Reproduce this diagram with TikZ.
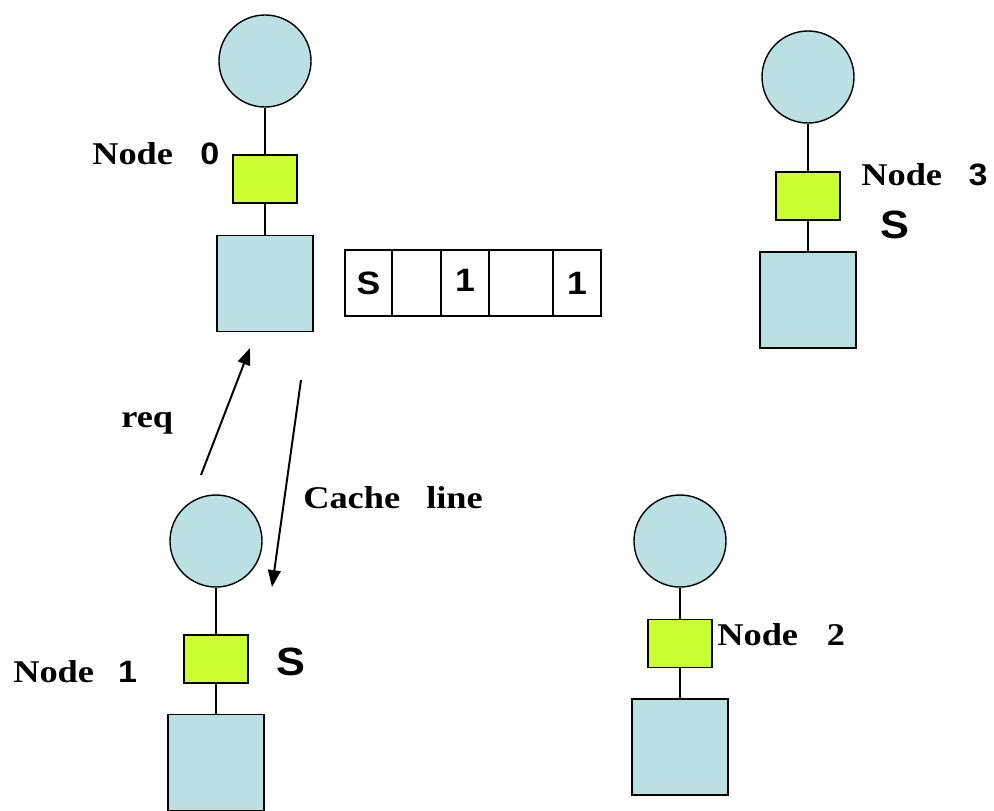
\documentclass[tikz,border=0pt]{standalone}
\usepackage{fontspec}
\setmainfont{Liberation Serif}
\newfontfamily\namefont[FakeStretch=1.15]{Liberation Serif}
\newfontfamily\gothicfont[FakeStretch=1.1]{Liberation Sans}
\usepackage{tikz}
\usetikzlibrary{positioning,arrows.meta}
\definecolor{procblue}{RGB}{187,224,227}
\definecolor{cachelime}{RGB}{204,255,51}
\tikzset{
  proc/.style={circle,draw=black,line width=1pt,fill=procblue,minimum size=2.3cm,inner sep=0pt},
  cachebox/.style={rectangle,draw=black,line width=1.2pt,fill=cachelime,minimum width=1.6cm,minimum height=1.2cm,inner sep=0pt},
  membox/.style={rectangle,draw=black,line width=1pt,fill=procblue,minimum width=2.4cm,minimum height=2.4cm,inner sep=0pt},
  dircell/.style={rectangle,draw=black,line width=1.2pt,minimum height=1.65cm,inner sep=0pt,outer sep=0pt,font=\gothicfont\bfseries\fontsize{23}{26}\selectfont},
  nodename/.style={font=\namefont\bfseries\fontsize{22.5}{26}\selectfont,inner sep=0pt},
  statetag/.style={font=\gothicfont\bfseries\fontsize{28}{30}\selectfont,inner sep=0pt},
  link/.style={line width=1pt},
  msg/.style={-{Triangle[length=12pt,width=9pt]},line width=1.4pt}
}
\newcommand{\gdigit}[1]{{\gothicfont\fontsize{22}{26}\selectfont #1}}

\begin{document}
\begin{tikzpicture}[x=0.025cm,y=-0.025cm]
  \useasboundingbox (0,0) rectangle (994,810);
  % node 0 (home)
  \node[proc] (proc0) at (265,61) {};
  \node[cachebox] (cache0) at (265,179) {};
  \node[membox] (mem0) at (265,283.5) {};
  \draw[link] (proc0) -- (cache0);
  \draw[link] (cache0) -- (mem0);
  \node[nodename,anchor=base west] (name0) at (92,164) {Node\hspace{0.68cm}\gdigit{0}};
  % directory entry
  \node[dircell,minimum width=1.175cm,anchor=west] (dirS) at (345,283) {S};
  \node[dircell,minimum width=1.225cm,right=0pt of dirS] (dirA) {};
  \node[dircell,minimum width=1.2cm,right=0pt of dirA] (dirB) {\raisebox{4pt}{1}};
  \node[dircell,minimum width=1.6cm,right=0pt of dirB] (dirC) {};
  \node[dircell,minimum width=1.2cm,right=0pt of dirC] (dirD) {1};
  % node 3
  \node[proc] (proc3) at (808,77) {};
  \node[cachebox] (cache3) at (808,196) {};
  \node[membox] (mem3) at (808,300) {};
  \draw[link] (proc3) -- (cache3);
  \draw[link] (cache3) -- (mem3);
  \node[nodename,anchor=base west] (name3) at (861,185) {Node\hspace{0.66cm}\gdigit{3}};
  \node[statetag,anchor=base west] (tag3) at (880,238) {S};
  % node 1 (requester)
  \node[proc] (proc1) at (216,541) {};
  \node[cachebox] (cache1) at (216,659) {};
  \node[membox] (mem1) at (216,762.5) {};
  \draw[link] (proc1) -- (cache1);
  \draw[link] (cache1) -- (mem1);
  \node[nodename,anchor=base west] (name1) at (13,682) {Node\hspace{0.6cm}\gdigit{1}};
  \node[statetag,anchor=base west] (tag1) at (276,675) {S};
  % node 2
  \node[proc] (proc2) at (680,541) {};
  \node[cachebox] (cache2) at (680,643.5) {};
  \node[membox] (mem2) at (680,747) {};
  \draw[link] (proc2) -- (cache2);
  \draw[link] (cache2) -- (mem2);
  \node[nodename,anchor=base west] (name2) at (717,645) {Node\hspace{0.72cm}2};
  % messages
  \coordinate (reqtail) at (201,475);
  \coordinate (reqhead) at (250,348);
  \coordinate (linetail) at (301,380);
  \coordinate (linehead) at (272,587);
  \draw[msg] (reqtail) -- (reqhead);
  \draw[msg] (linetail) -- (linehead);
  \node[nodename,anchor=base west] (reqtext) at (121,427) {req};
  \node[nodename,anchor=base west] (linetext) at (303,508) {Cache\hspace{0.65cm}line};
\end{tikzpicture}
\end{document}
